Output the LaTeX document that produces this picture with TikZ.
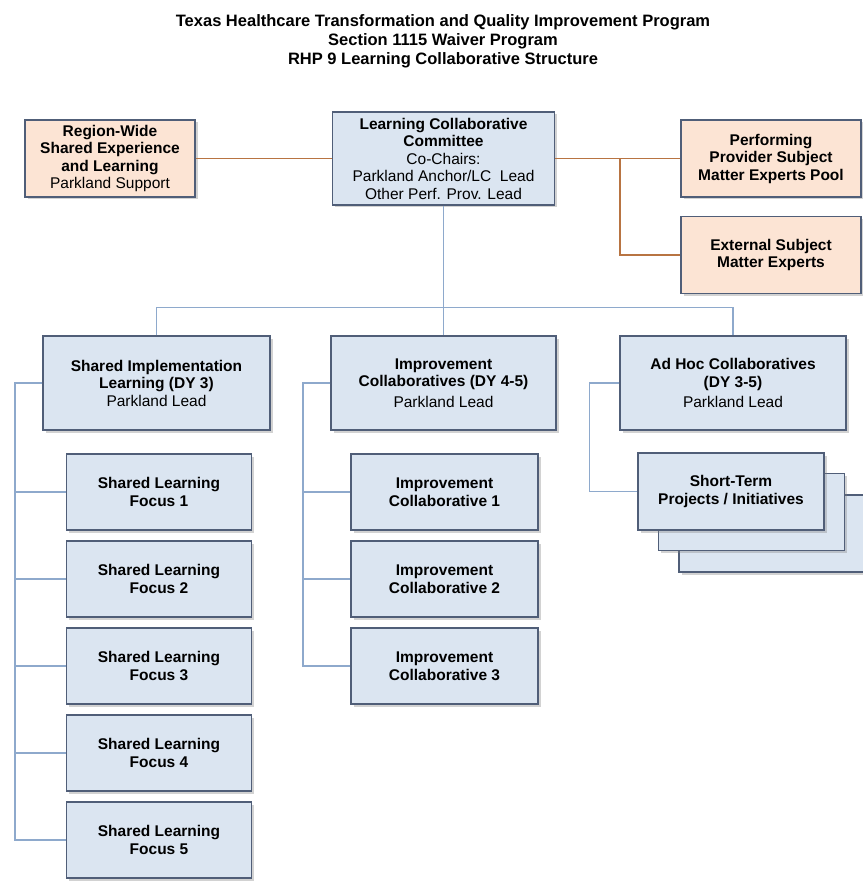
\documentclass[tikz,border=0pt]{standalone}
\usepackage{fontspec}
\setmainfont{Liberation Sans}
\usetikzlibrary{shadows}
\newlength{\du}
\setlength{\du}{1pt}
\definecolor{boxblue}{RGB}{219,229,241}
\definecolor{boxpeach}{RGB}{252,228,212}
\definecolor{boxedge}{RGB}{80,94,120}
\definecolor{lineorange}{RGB}{184,116,66}
\definecolor{lineblue}{RGB}{142,169,204}
\tikzset{
  lcbox/.style={draw=boxedge, line width=1.1\du, fill=boxblue, align=center,
    inner sep=0pt, font=\fontsize{15.5}{17.5}\selectfont,
    drop shadow={opacity=0.35, shadow xshift=2.5\du, shadow yshift=-2.5\du}},
  peachbox/.style={lcbox, fill=boxpeach},
  orline/.style={draw=lineorange, line width=1.2\du},
  blline/.style={draw=lineblue, line width=1.2\du},
}
\begin{document}
\begin{tikzpicture}[x=1\du, y=-1\du]
\useasboundingbox (0,0) rectangle (862,882);
\fill[white] (0,0) rectangle (862,882);
% title
\node[align=center, font=\bfseries\fontsize{16.5}{19}\selectfont] (title) at (443,41)
  {Texas Healthcare Transformation and Quality Improvement Program\\
   Section 1115 Waiver Program\\
   RHP 9 Learning Collaborative Structure};
% top row
\node[peachbox, minimum width=170\du, minimum height=77\du] (region) at (110,158.5)
  {\textbf{Region-Wide}\\\textbf{Shared Experience}\\\textbf{and Learning}\\Parkland Support};
\node[lcbox, minimum width=222\du, minimum height=93\du] (lcc) at (443.5,158.5)
  {\textbf{Learning Collaborative}\\\textbf{Committee}\\Co-Chairs:\\Parkland Anchor/LC\ \ Lead\\Other Perf. Prov. Lead};
\node[peachbox, minimum width=180\du, minimum height=77\du] (perf) at (771,158.5)
  {\textbf{Performing}\\\textbf{Provider Subject}\\\textbf{Matter Experts Pool}};
\node[peachbox, minimum width=180\du, minimum height=77\du] (extsme) at (771,255)
  {\textbf{External Subject}\\\textbf{Matter Experts}};
% second row
\node[lcbox, minimum width=227\du, minimum height=94\du] (sil) at (156.5,383)
  {\textbf{Shared Implementation}\\\textbf{Learning (DY 3)}\\Parkland Lead};
\node[lcbox, minimum width=225\du, minimum height=94\du] (ic) at (443.5,383)
  {\textbf{Improvement}\\\textbf{Collaboratives (DY 4-5)}\\[3\du]Parkland Lead};
\node[lcbox, minimum width=226\du, minimum height=94\du] (adhoc) at (733,383)
  {\textbf{Ad Hoc Collaboratives}\\\textbf{(DY 3-5)}\\[3\du]Parkland Lead};
% shared learning focus boxes
\foreach \i/\y in {1/492,2/579,3/666,4/753,5/840}
  \node[lcbox, minimum width=185\du, minimum height=76\du] (focus\i) at (159,\y)
    {\textbf{Shared Learning}\\\textbf{Focus \i}};
% improvement collaborative boxes
\foreach \i/\y in {1/492,2/579,3/666}
  \node[lcbox, minimum width=187\du, minimum height=76\du] (icol\i) at (444.5,\y)
    {\textbf{Improvement}\\\textbf{Collaborative \i}};
% short-term stack
\node[lcbox, minimum width=186\du, minimum height=77\du] (stback) at (772,533.5) {};
\node[lcbox, minimum width=186\du, minimum height=77\du] (stmid) at (751.5,512) {};
\node[lcbox, minimum width=186\du, minimum height=77\du] (stproj) at (731,491.5)
  {\textbf{Short-Term}\\\textbf{Projects / Initiatives}};
% connectors
\coordinate (smebus) at (620,158.5);
\draw[orline] (region.east) -- (lcc.west);
\draw[orline] (lcc.east) -- (perf.west);
\draw[orline] (smebus) |- (extsme.west);
\draw[blline] (lcc.south) -- (ic.north);
\draw[blline] (sil.north) -- ++(0,-28) -| (adhoc.north);
\coordinate (silbus) at (15,383);
\draw[blline] (sil.west) -- (silbus) |- (focus5.west);
\foreach \i in {1,...,4}
  \draw[blline] (silbus |- focus\i.west) -- (focus\i.west);
\coordinate (icbus) at (303,383);
\draw[blline] (ic.west) -- (icbus) |- (icol3.west);
\foreach \i in {1,2}
  \draw[blline] (icbus |- icol\i.west) -- (icol\i.west);
\draw[blline] (adhoc.west) -- ++(-30,0) |- (stproj.west);
\end{tikzpicture}
\end{document}
